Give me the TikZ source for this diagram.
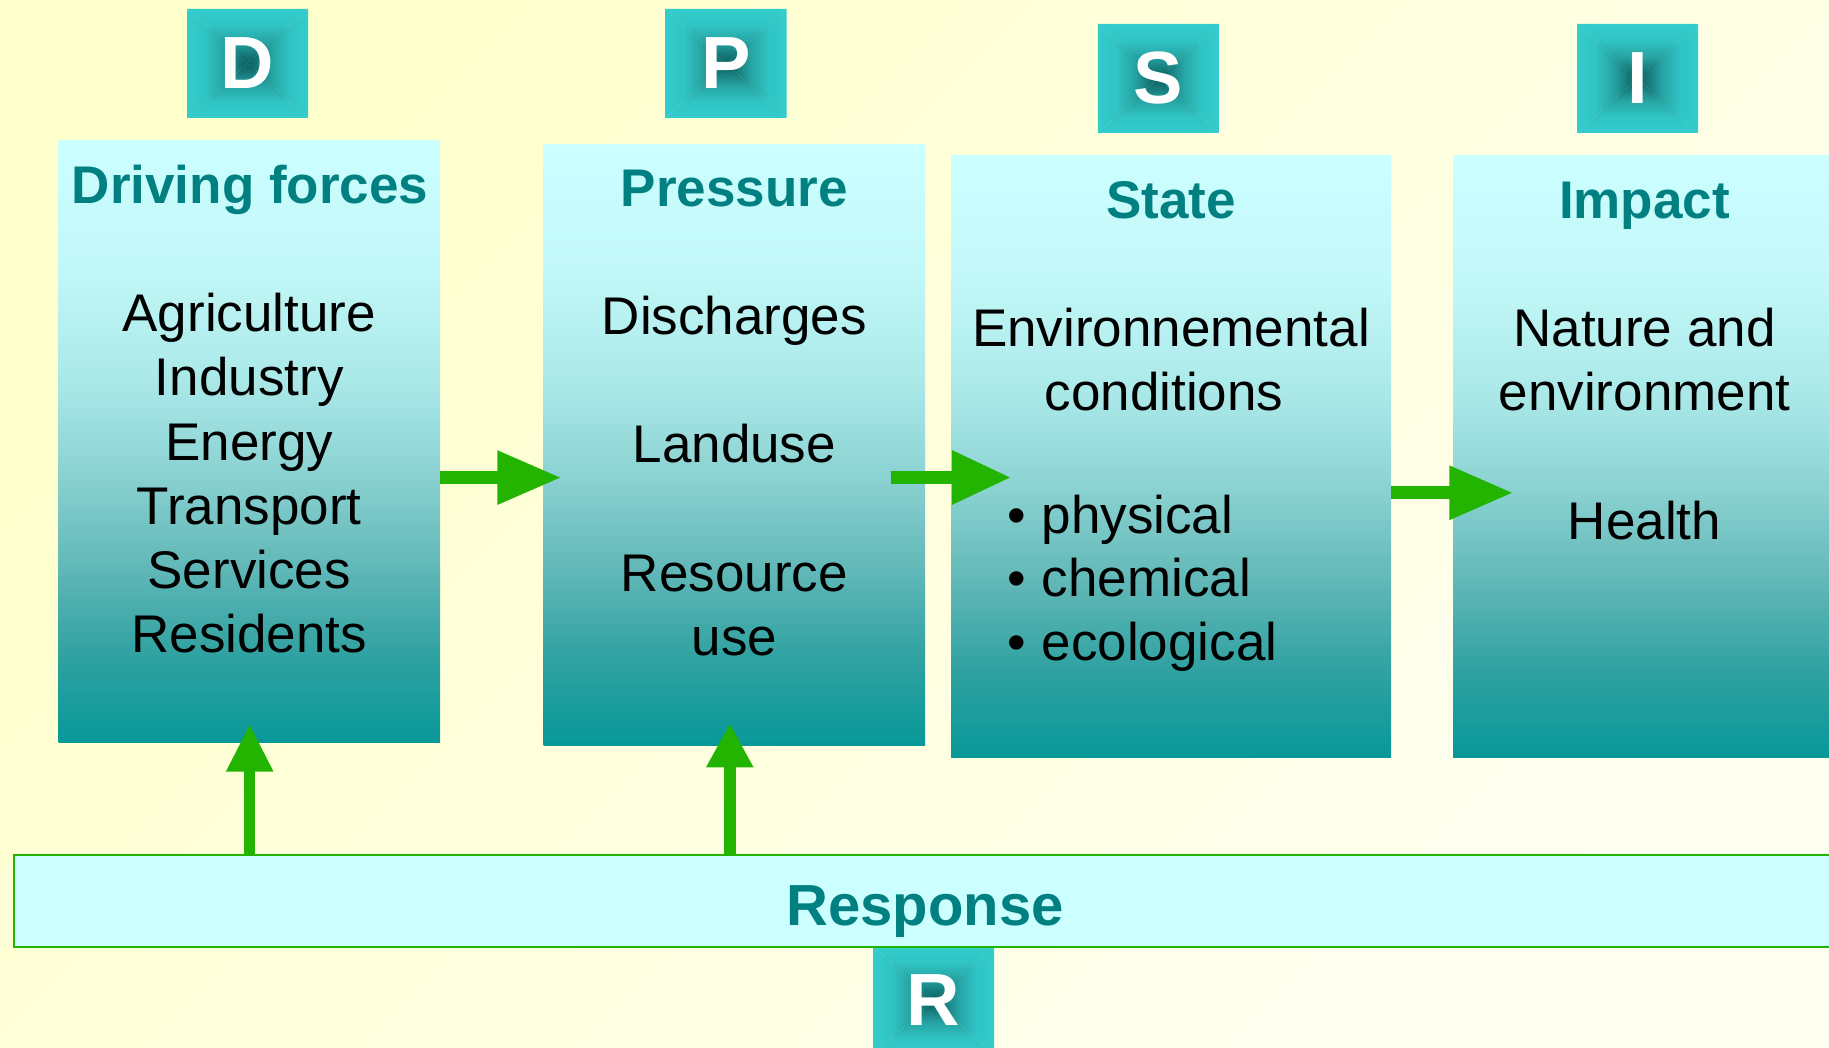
\documentclass[tikz,border=0pt]{standalone}
\usepackage{fontspec}
\setmainfont{Liberation Sans}
\usetikzlibrary{arrows.meta,calc}
\definecolor{tealtxt}{RGB}{0,128,128}
\definecolor{arrgreen}{RGB}{34,180,0}
\definecolor{respfill}{RGB}{204,255,255}
\definecolor{bgA}{RGB}{255,255,204}
\definecolor{bgB}{RGB}{255,255,242}
\pgfdeclareverticalshading{boxgrad}{100bp}{rgb(0bp)=(0.031,0.596,0.596); rgb(25bp)=(0.031,0.596,0.596); rgb(32.5bp)=(0.196,0.635,0.635); rgb(40bp)=(0.392,0.725,0.725); rgb(47.5bp)=(0.549,0.824,0.824); rgb(55bp)=(0.667,0.910,0.910); rgb(65bp)=(0.765,0.973,0.973); rgb(75bp)=(0.8,1,1); rgb(100bp)=(0.8,1,1)}
\pgfdeclareverticalshading{sqgrad}{100bp}{rgb(0bp)=(0.04,0.38,0.38); rgb(25bp)=(0.04,0.38,0.38); rgb(32.5bp)=(0.08,0.46,0.46); rgb(45bp)=(0.15,0.64,0.64); rgb(60bp)=(0.19,0.77,0.77); rgb(75bp)=(0.2,0.8,0.8); rgb(100bp)=(0.2,0.8,0.8)}
\newcommand\lettersq[4]{%
  \coordinate (#1c) at (#2,#3);
  \shade[shading=sqgrad] ([shift={(-60.5,-54.5)}]#1c) -- ([shift={(60.5,-54.5)}]#1c) -- (#1c) -- cycle;
  \shade[shading=sqgrad,shading angle=180] ([shift={(-60.5,54.5)}]#1c) -- ([shift={(60.5,54.5)}]#1c) -- (#1c) -- cycle;
  \shade[shading=sqgrad,shading angle=90] ([shift={(-60.5,-54.5)}]#1c) -- ([shift={(-60.5,54.5)}]#1c) -- (#1c) -- cycle;
  \shade[shading=sqgrad,shading angle=-90] ([shift={(60.5,-54.5)}]#1c) -- ([shift={(60.5,54.5)}]#1c) -- (#1c) -- cycle;
  \node[sqletter] (#1) at (#1c) {#4};
}
\begin{document}
\begin{tikzpicture}[x=1pt,y=-1pt,
  dbox/.style={shade, shading=boxgrad, inner sep=0pt},
  sqletter/.style={text=white, inner sep=0pt, font=\fontsize{74}{74}\selectfont\bfseries},
  ttl/.style={anchor=base, inner sep=0pt, text=tealtxt, font=\fontsize{53}{64}\selectfont\bfseries},
  bodytxt/.style={anchor=base, inner sep=0pt, text=black, font=\fontsize{53}{64}\selectfont},
  bul/.style={anchor=base west, inner sep=0pt, text=black, font=\fontsize{53}{64}\selectfont},
  arrH/.style={draw=arrgreen, line width=13.3pt, -{Triangle[length=#1]}},
  arrV/.style={draw=arrgreen, line width=11.5pt, -{Triangle[length=#1]}}]
\useasboundingbox (0,0) rectangle (1829,1048);
\clip (0,0) rectangle (1829,1048);
\shade[top color=bgA, bottom color=bgB, shading angle=45] (-10,-10) rectangle (1840,1060);

% letter squares
\lettersq{sqD}{247.5}{63.5}{D}
\lettersq{sqP}{726}{63.5}{P}
\lettersq{sqS}{1158.4}{78.4}{S}
\lettersq{sqI}{1637.5}{78.5}{I}
\lettersq{sqR}{933.7}{1000.5}{R}

% main boxes
\node[dbox, minimum width=381.5, minimum height=601] (df) at (249.25,441.5) {};
\node[dbox, minimum width=381.4, minimum height=600.4] (pr) at (734.3,444.8) {};
\node[dbox, minimum width=440, minimum height=601] (st) at (1171,456.5) {};
\node[dbox, minimum width=383, minimum height=601] (im) at (1644.5,456.5) {};

% response box
\node[draw=arrgreen, line width=2.2pt, fill=respfill, minimum width=1840, minimum height=92.3, inner sep=0pt] (resp) at (934,901.2) {};
\node[ttl, font=\fontsize{58}{64}\selectfont\bfseries] (resptxt) at (925,925) {Response};

% Driving forces
\node[ttl] (dft) at (250,203.3) {Driving forces};
\node[bodytxt] (df1) at (249.25,331.7) {Agriculture};
\node[bodytxt] (df2) at (249.25,395.9) {Industry};
\node[bodytxt] (df3) at (249.25,460.1) {Energy};
\node[bodytxt] (df4) at (249.25,524.3) {Transport};
\node[bodytxt] (df5) at (249.25,588.5) {Services};
\node[bodytxt] (df6) at (249.25,652.7) {Residents};

% Pressure
\node[ttl] (prt) at (734.3,206.9) {Pressure};
\node[bodytxt] (pr1) at (734.3,334.8) {Discharges};
\node[bodytxt] (pr2) at (734.3,462.8) {Landuse};
\node[bodytxt] (pr3) at (734.3,591.5) {Resource};
\node[bodytxt] (pr4) at (734.3,655.7) {use};

% State
\node[ttl] (stt) at (1171,218.3) {State};
\node[bodytxt] (st1) at (1171,346.7) {Environnemental};
\node[bodytxt] (st2) at (1164,410.9) {conditions};
\node[bul] (stb1) at (1007,533.3) {•};
\node[bul] (stb2) at (1007,596.7) {•};
\node[bul] (stb3) at (1007,660) {•};
\node[bul] (st3) at (1041.5,533.3) {physical};
\node[bul] (st4) at (1041.5,596.7) {chemical};
\node[bul] (st5) at (1041.5,660) {ecological};

% Impact
\node[ttl] (imt) at (1644.5,218.3) {Impact};
\node[bodytxt] (im1) at (1644.5,346.7) {Nature and};
\node[bodytxt] (im2) at (1644.5,410.9) {environment};
\node[bodytxt] (im3) at (1644.5,539.3) {Health};

% arrows
\coordinate (a1t) at (561.6,477.6);
\coordinate (a2t) at (1011.3,477.5);
\coordinate (a2s) at (890.7,477.5);
\coordinate (a3t) at (1513.4,492.8);
\coordinate (v1t) at (249.7,724);
\coordinate (v2t) at (729.8,723.3);
\draw[arrH={64.3pt width=64.7pt}] (df.east |- a1t) -- (a1t);
\draw[arrH={59.3pt width=61pt}] (a2s) -- (a2t);
\draw[arrH={64pt width=64.3pt}] (st.east |- a3t) -- (a3t);
\draw[arrV={47.7pt width=55.3pt}] (resp.north -| v1t) -- (v1t);
\draw[arrV={44pt width=51pt}] (resp.north -| v2t) -- (v2t);
\end{tikzpicture}
\end{document}
